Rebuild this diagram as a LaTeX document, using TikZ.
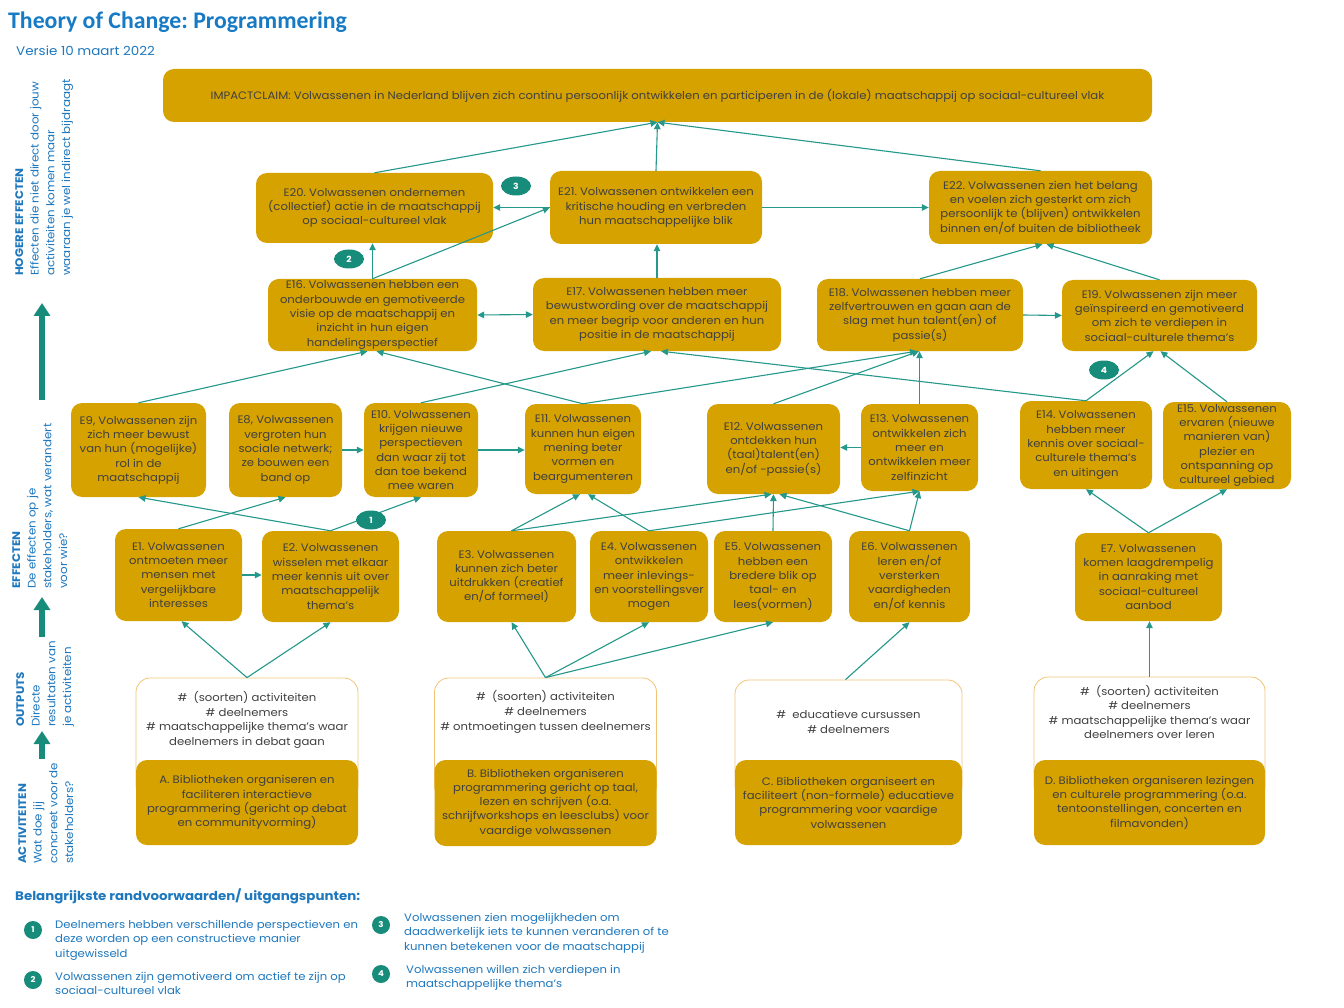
\documentclass[tikz,border=0pt]{standalone}
\usepackage{fontspec}
\setmainfont{Poppins}[FakeStretch=1.08]
\newfontfamily\titlefont{Carlito}
\usetikzlibrary{arrows.meta,shapes.geometric}
\definecolor{gold}{RGB}{214,162,0}
\definecolor{tocteal}{RGB}{36,152,138}
\definecolor{badgec}{RGB}{24,140,122}
\definecolor{tocblue}{RGB}{30,120,190}
\definecolor{titleblue}{RGB}{22,122,196}
\definecolor{txt}{RGB}{64,64,64}
\definecolor{outlinec}{RGB}{242,196,120}
\frenchspacing
\begin{document}
\begin{tikzpicture}[x=1pt,y=-1pt,
  gbox/.style={fill=gold, rounded corners=11pt, text=txt, align=center,
    font=\fontsize{10.8}{14.3}\selectfont, inner sep=2pt},
  obox/.style={draw=outlinec, line width=0.8pt, fill=white, rounded corners=14pt},
  otext/.style={text=txt, align=center, font=\fontsize{10.8}{14.6}\selectfont, inner sep=0pt},
  conn/.style={draw=tocteal, line width=1.1pt, -{Triangle[length=7pt,width=6.5pt]}},
  connboth/.style={draw=tocteal, line width=1.1pt, {Triangle[length=7pt,width=6.5pt]}-{Triangle[length=7pt,width=6.5pt]}},
  badgeE/.style={ellipse, fill=badgec, text=white, font=\bfseries\fontsize{8.5}{9}\selectfont,
    minimum width=30pt, minimum height=19pt, inner sep=0pt},
  badgeC/.style={circle, fill=badgec, text=white, font=\bfseries\fontsize{8}{9}\selectfont,
    minimum size=18pt, inner sep=0pt},
  sidelab/.style={rotate=90, anchor=north west, align=left, text=tocblue,
    font=\fontsize{11}{15.7}\selectfont, inner sep=0pt},
  legtext/.style={anchor=north west, align=left, text=tocblue,
    font=\fontsize{10.8}{14.5}\selectfont, inner sep=0pt},
  bigarrow/.style={draw=badgec, line width=6pt, -{Triangle[length=13pt,width=16pt]}}
]
\fill[white] (0,0) rectangle (1344,1008);
\useasboundingbox (0,0) rectangle (1344,1008);

% titles
\node[anchor=west, font=\titlefont\bfseries\fontsize{23.8}{24}\selectfont, text=titleblue, inner sep=0pt] (title) at (8,22) {Theory of Change: Programmering};
\node[anchor=west, font=\fontsize{12.5}{13}\selectfont, text=tocblue, inner sep=0pt] (versie) at (16,51) {Versie 10 maart 2022};

% impact
\node[gbox, minimum width=989pt, minimum height=53pt] (imp) at (657.5,95.5) {IMPACTCLAIM: Volwassenen in Nederland blijven zich continu persoonlijk ontwikkelen en participeren in de (lokale) maatschappij op sociaal-cultureel vlak};

% hogere effecten
\node[gbox, minimum width=237pt, minimum height=70pt] (e20) at (374.5,208) {E20. Volwassenen ondernemen\\(collectief) actie in de maatschappij\\op sociaal-cultureel vlak};
\node[gbox, minimum width=212pt, minimum height=73pt] (e21) at (656,207.5) {E21. Volwassenen ontwikkelen een\\kritische houding en verbreden\\hun maatschappelijke blik};
\node[gbox, minimum width=223pt, minimum height=73pt] (e22) at (1040.5,207.5) {E22. Volwassenen zien het belang\\en voelen zich gesterkt om zich\\persoonlijk te (blijven) ontwikkelen\\binnen en/of buiten de bibliotheek};
\node[gbox, minimum width=209pt, minimum height=72pt] (e16) at (372.5,315) {E16. Volwassenen hebben een\\onderbouwde en gemotiveerde\\visie op de maatschappij en\\inzicht in hun eigen\\handelingsperspectief};
\node[gbox, minimum width=248pt, minimum height=73pt] (e17) at (657,314.5) {E17. Volwassenen hebben meer\\bewustwording over de maatschappij\\en meer begrip voor anderen en hun\\positie in de maatschappij};
\node[gbox, minimum width=206pt, minimum height=72pt] (e18) at (920,315) {E18. Volwassenen hebben meer\\zelfvertrouwen en gaan aan de\\slag met hun talent(en) of\\passie(s)};
\node[gbox, minimum width=195pt, minimum height=71pt] (e19) at (1159.5,315.5) {E19. Volwassenen zijn meer\\geïnspireerd en gemotiveerd\\om zich te verdiepen in\\sociaal-culturele thema’s};

% effecten row 2
\node[gbox, minimum width=135pt, minimum height=94pt] (e9) at (138.5,450) {E9, Volwassenen zijn\\zich meer bewust\\van hun (mogelijke)\\rol in de\\maatschappij};
\node[gbox, minimum width=113pt, minimum height=94pt] (e8) at (285.5,450) {E8, Volwassenen\\vergroten hun\\sociale netwerk;\\ze bouwen een\\band op};
\node[gbox, minimum width=114pt, minimum height=94pt] (e10) at (421,450) {E10. Volwassenen\\krijgen nieuwe\\perspectieven\\dan waar zij tot\\dan toe bekend\\mee waren};
\node[gbox, minimum width=116pt, minimum height=90pt] (e11) at (583,449) {E11. Volwassenen\\kunnen hun eigen\\mening beter\\vormen en\\beargumenteren};
\node[gbox, minimum width=133pt, minimum height=90pt] (e12) at (773.5,449) {E12. Volwassenen\\ontdekken hun\\(taal)talent(en)\\en/of -passie(s)};
\node[gbox, minimum width=117pt, minimum height=87pt] (e13) at (919.5,447.5) {E13. Volwassenen\\ontwikkelen zich\\meer en\\ontwikkelen meer\\zelfinzicht};
\node[gbox, minimum width=132pt, minimum height=88pt] (e14) at (1086,445) {E14. Volwassenen\\hebben meer\\kennis over sociaal-\\culturele thema’s\\en uitingen};
\node[gbox, minimum width=128pt, minimum height=87pt] (e15) at (1227,445.5) {E15. Volwassenen\\ervaren (nieuwe\\manieren van)\\plezier en\\ontspanning op\\cultureel gebied};

% effecten row 1
\node[gbox, minimum width=127pt, minimum height=92pt] (e1) at (178.5,575) {E1. Volwassenen\\ontmoeten meer\\mensen met\\vergelijkbare\\interesses};
\node[gbox, minimum width=137pt, minimum height=91pt] (e2) at (330.5,576.5) {E2. Volwassenen\\wisselen met elkaar\\meer kennis uit over\\maatschappelijk\\thema’s};
\node[gbox, minimum width=139pt, minimum height=91pt] (e3) at (506.5,576.5) {E3. Volwassenen\\kunnen zich beter\\uitdrukken (creatief\\en/of formeel)};
\node[gbox, minimum width=118pt, minimum height=91pt] (e4) at (649,576.5) {E4. Volwassenen\\ontwikkelen\\meer inlevings-\\en voorstellingsver\\mogen};
\node[gbox, minimum width=118pt, minimum height=91pt] (e5) at (773,576.5) {E5. Volwassenen\\hebben een\\bredere blik op\\taal- en\\lees(vormen)};
\node[gbox, minimum width=121pt, minimum height=91pt] (e6) at (909.5,576.5) {E6. Volwassenen\\leren en/of\\versterken\\vaardigheden\\en/of kennis};
\node[gbox, minimum width=147pt, minimum height=88pt] (e7) at (1148.5,577) {E7. Volwassenen\\komen laagdrempelig\\in aanraking met\\sociaal-cultureel\\aanbod};

% outputs
\node[obox, minimum width=222pt, minimum height=122pt] (oa) at (247,739) {};
\node[obox, minimum width=222pt, minimum height=122pt] (ob) at (545.5,739) {};
\node[obox, minimum width=227pt, minimum height=120pt] (oc) at (848.5,740) {};
\node[obox, minimum width=231pt, minimum height=123pt] (od) at (1149.5,738.5) {};
\node[otext] (oat) at (247,720) {\#\ \ (soorten) activiteiten\\\# deelnemers\\\# maatschappelijke thema’s waar\\deelnemers in debat gaan};
\node[otext] (obt) at (545.5,712) {\#\ \ (soorten) activiteiten\\\# deelnemers\\\# ontmoetingen tussen deelnemers};
\node[otext] (oct) at (848.5,722) {\#\ \ educatieve cursussen\\\# deelnemers};
\node[otext] (odt) at (1149.5,712) {\#\ \ (soorten) activiteiten\\\# deelnemers\\\# maatschappelijke thema’s waar\\deelnemers over leren};

% activiteiten
\node[gbox, minimum width=222pt, minimum height=85pt] (ga) at (247,802.5) {A. Bibliotheken organiseren en\\faciliteren interactieve\\programmering (gericht op debat\\en communityvorming)};
\node[gbox, minimum width=222pt, minimum height=86pt] (gb) at (545.5,803) {B. Bibliotheken organiseren\\programmering gericht op taal,\\lezen en schrijven (o.a.\\schrijfworkshops en leesclubs) voor\\vaardige volwassenen};
\node[gbox, minimum width=227pt, minimum height=85pt] (gc) at (848.5,802.5) {C. Bibliotheken organiseert en\\faciliteert (non-formele) educatieve\\programmering voor vaardige\\volwassenen};
\node[gbox, minimum width=231pt, minimum height=85pt] (gd) at (1149.5,802.5) {D. Bibliotheken organiseren lezingen\\en culturele programmering (o.a.\\tentoonstellingen, concerten en\\filmavonden)};

% connectors top
\draw[conn] (e20.north) -- (imp.south);
\draw[conn] (e21.north) -- (imp.south);
\draw[conn] (e22.north) -- (imp.south);
\draw[conn] (e21.west) -- (e21.west -| e20.east);
\draw[conn] (e16.north) -- (e16.north |- e20.south);
\draw[conn] (e16.north) -- (e21.west);
\draw[conn] (e21.east) -- (e22.west);
\draw[conn] (e17.north) -- (e17.north |- e21.south);
\draw[conn] (e18.north) -- ([xshift=2pt]e22.south);
\draw[conn] (e19.north) -- ([xshift=6pt]e22.south);
\draw[connboth] (e16.east) -- (e17.west);
\draw[conn] (e18.east) -- (e19.west);

% row2 -> row3
\draw[conn] (e9.north) -- ([xshift=-5pt]e16.south);
\draw[conn] (e11.north) -- ([xshift=4pt]e16.south);
\draw[conn] (e10.north) -- ([xshift=-6pt]e17.south);
\draw[conn] (e14.north) -- ([xshift=4pt]e17.south);
\draw[conn] (e11.north) -- ([xshift=-3pt]e18.south);
\draw[conn] (e12.north) -- ([xshift=-1pt]e18.south);
\draw[conn] (e13.north) -- (e13.north |- e18.south);
\draw[conn] (e14.north) -- ([xshift=-6pt]e19.south);
\draw[conn] (e15.north) -- ([xshift=1pt]e19.south);
\draw[conn] (e8.east) -- (e10.west);
\draw[conn] (e10.east) -- (e10.east -| e11.west);
\draw[conn] (e13.west) -- (e13.west -| e12.east);

% row1 -> row2
\draw[conn] (e1.north) -- (e8.south);
\draw[conn] (e2.north) -- (e9.south);
\draw[conn] (e2.north) -- (e10.south);
\draw[conn] (e1.east) -- (e1.east -| e2.west);
\draw[conn] ([xshift=5pt]e3.north) -- ([xshift=-3pt]e11.south);
\draw[conn] ([xshift=5pt]e3.north) -- ([xshift=-2pt]e12.south);
\draw[conn] (e4.north) -- ([xshift=5pt]e11.south);
\draw[conn] (e4.north) -- (e13.south);
\draw[conn] (e5.north) -- (e12.south);
\draw[conn] (e6.north) -- ([xshift=6pt]e12.south);
\draw[conn] (e6.north) -- (e13.south);
\draw[conn] (e7.north) -- (e14.south);
\draw[conn] (e7.north) -- (e15.south);

% outputs -> effecten
\draw[conn] (oa.north) -- ([xshift=3pt]e1.south);
\draw[conn] (oa.north) -- (e2.south);
\draw[conn] (ob.north) -- ([xshift=5pt]e3.south);
\draw[conn] (ob.north) -- (e4.south);
\draw[conn] (ob.north) -- (e5.south);
\draw[conn] ([xshift=-3pt]oc.north) -- (e6.south);
\draw[conn] (od.north) -- (od.north |- e7.south);

% badges
\node[badgeE] (b3) at (516,186) {3};
\node[badgeE] (b2) at (349,259) {2};
\node[badgeE] (b1) at (371,520) {1};
\node[badgeE] (b4) at (1104,370) {4};

% side labels
\node[sidelab] (lhog) at (15,276) {\textbf{HOGERE EFFECTEN}\\Effecten die niet direct door jouw\\activiteiten komen maar\\waaraan je wel indirect bijdraagt};
\node[sidelab] (leff) at (12,589) {\textbf{EFFECTEN}\\De effecten op je\\stakeholders, wat verandert\\voor wie?};
\node[sidelab] (lout) at (16,727) {\textbf{OUTPUTS}\\Directe\\resultaten van\\je activiteiten};
\node[sidelab] (lact) at (18,864) {\textbf{ACTIVITEITEN}\\Wat doe jij\\concreet voor de\\stakeholders?};

\coordinate (a1s) at (42,400); \coordinate (a1e) at (42,303);
\coordinate (a2s) at (42,637); \coordinate (a2e) at (42,597);
\coordinate (a3s) at (42,759); \coordinate (a3e) at (42,731);
\draw[bigarrow] (a1s) -- (a1e);
\draw[bigarrow] (a2s) -- (a2e);
\draw[bigarrow] (a3s) -- (a3e);

% legend
\node[anchor=west, font=\bfseries\fontsize{12.4}{14}\selectfont, text=tocblue, inner sep=0pt] (leg) at (15,896) {Belangrijkste randvoorwaarden/ uitgangspunten:};
\node[badgeC] (c1) at (33,930) {1};
\node[badgeC] (c2) at (33,980) {2};
\node[badgeC] (c3) at (381,925) {3};
\node[badgeC] (c4) at (381,974) {4};
\node[legtext] (t1) at (55,920) {Deelnemers hebben verschillende perspectieven en\\deze worden op een constructieve manier\\uitgewisseld};
\node[legtext] (t2) at (55,972) {Volwassenen zijn gemotiveerd om actief te zijn op\\sociaal-cultureel vlak};
\node[legtext] (t3) at (404,913) {Volwassenen zien mogelijkheden om\\daadwerkelijk iets te kunnen veranderen of te\\kunnen betekenen voor de maatschappij};
\node[legtext] (t4) at (406,965) {Volwassenen willen zich verdiepen in\\maatschappelijke thema’s};
\end{tikzpicture}
\end{document}
